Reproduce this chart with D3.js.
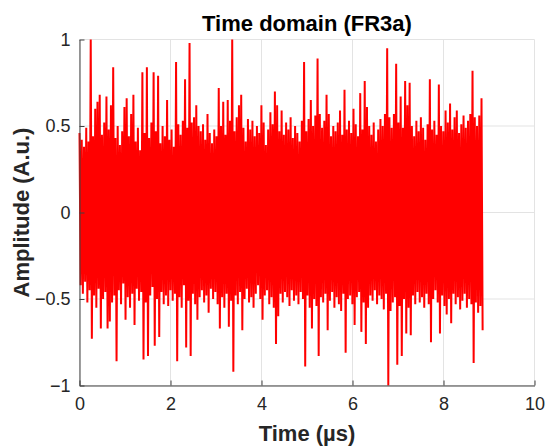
<!DOCTYPE html>
<html>
<head>
<meta charset="utf-8">
<script src="https://cdn.jsdelivr.net/npm/d3@7"></script>
<style>
	body { margin: 0; background: #fff; }
	svg text { font-family: "Liberation Sans", Arial, Helvetica, sans-serif; fill: #262626; }
</style>
</head>
<body>
<svg id="plot" width="549" height="448"></svg>
<script>
// positive peaks of the signal, one per sample period
const upper = [
	0.46, 0.42, 0.38, 0.49, 0.41, 1.00, 0.44, 0.60, 0.64, 0.68,
	0.45, 0.52, 0.67, 0.48, 0.62, 0.84, 0.43, 0.50, 0.39, 0.47,
	0.61, 0.66, 0.44, 0.57, 0.68, 0.41, 0.49, 0.36, 0.81, 0.46,
	0.84, 0.43, 0.52, 0.81, 0.47, 0.79, 0.40, 0.50, 0.44, 0.65,
	0.42, 0.48, 0.38, 0.87, 0.51, 0.45, 0.53, 0.77, 0.49, 0.98,
	0.52, 0.55, 0.62, 0.50, 0.47, 0.51, 0.42, 0.57, 0.46, 0.40,
	0.48, 0.44, 0.72, 0.50, 0.64, 0.45, 0.65, 0.53, 1.00, 0.47,
	0.55, 0.62, 0.68, 0.49, 0.41, 0.54, 0.48, 0.53, 0.44, 0.50,
	0.46, 0.62, 0.52, 0.39, 0.48, 0.58, 0.51, 0.70, 0.62, 0.47,
	0.59, 0.45, 0.52, 0.48, 0.55, 0.43, 0.50, 0.46, 0.41, 0.53,
	0.87, 0.47, 0.54, 0.65, 0.50, 0.56, 0.89, 0.57, 0.49, 0.53,
	0.68, 0.57, 0.44, 0.50, 0.47, 0.52, 0.59, 0.45, 0.71, 0.48,
	0.53, 0.46, 0.60, 0.51, 0.44, 0.69, 0.48, 0.76, 0.61, 0.50,
	0.45, 0.52, 0.41, 0.48, 0.54, 0.50, 0.57, 0.95, 0.55, 0.49,
	0.57, 0.86, 0.52, 0.67, 0.49, 0.76, 0.62, 0.75, 0.50, 0.44,
	0.53, 0.47, 0.55, 0.49, 0.42, 0.51, 0.77, 0.48, 0.53, 0.45,
	0.74, 0.50, 0.47, 0.59, 0.52, 0.63, 0.48, 0.55, 0.59, 0.46,
	0.51, 0.56, 0.49, 0.53, 0.57, 0.82, 0.55, 0.50, 0.56, 0.66
];

// negative peaks, half a sample period later
const lower = [
	-0.42, -0.47, -0.40, -0.52, -0.45, -0.73, -0.48, -0.55, -0.44, -0.67,
	-0.50, -0.46, -0.67, -0.63, -0.52, -0.48, -0.86, -0.45, -0.53, -0.41,
	-0.62, -0.49, -0.55, -0.47, -0.65, -0.44, -0.51, -0.46, -0.85, -0.52,
	-0.83, -0.48, -0.43, -0.77, -0.50, -0.72, -0.46, -0.53, -0.48, -0.54,
	-0.45, -0.51, -0.47, -0.86, -0.49, -0.55, -0.42, -0.78, -0.51, -0.83,
	-0.47, -0.53, -0.62, -0.49, -0.45, -0.52, -0.48, -0.58, -0.44, -0.50,
	-0.46, -0.53, -0.67, -0.49, -0.55, -0.47, -0.66, -0.51, -0.92, -0.48,
	-0.53, -0.46, -0.68, -0.50, -0.44, -0.52, -0.49, -0.55, -0.47, -0.42,
	-0.50, -0.62, -0.48, -0.45, -0.53, -0.49, -0.55, -0.76, -0.60, -0.47,
	-0.52, -0.46, -0.49, -0.54, -0.45, -0.51, -0.48, -0.53, -0.46, -0.50,
	-0.89, -0.48, -0.55, -0.67, -0.50, -0.54, -0.83, -0.49, -0.52, -0.47,
	-0.68, -0.51, -0.46, -0.55, -0.49, -0.53, -0.57, -0.47, -0.81, -0.50,
	-0.48, -0.53, -0.65, -0.49, -0.46, -0.69, -0.52, -0.76, -0.55, -0.48,
	-0.51, -0.45, -0.53, -0.48, -0.50, -0.56, -0.47, -1.00, -0.57, -0.52,
	-0.49, -0.88, -0.54, -0.83, -0.50, -0.70, -0.55, -0.71, -0.48, -0.53,
	-0.46, -0.52, -0.49, -0.55, -0.47, -0.53, -0.75, -0.50, -0.45, -0.52,
	-0.70, -0.48, -0.54, -0.59, -0.50, -0.64, -0.47, -0.53, -0.49, -0.56,
	-0.51, -0.47, -0.55, -0.50, -0.53, -0.87, -0.52, -0.58, -0.54, -0.68
];

const signal_end = 8.86; // µs
const x_ticks = [0, 2, 4, 6, 8, 10];
const y_ticks = [-1, -0.5, 0, 0.5, 1];

const svg = d3.select("#plot");
const m_left = 79.5, m_right = 534.5, m_top = 39.5, m_bottom = 385.5;

const x = d3.scaleLinear().domain([0, 10]).range([m_left, m_right]);
const y = d3.scaleLinear().domain([-1, 1]).range([m_bottom, m_top]);

// grid
const grid = svg.append("g");
grid.selectAll(".gx").data(x_ticks).enter().append("line")
	.attr("x1", d => x(d)).attr("x2", d => x(d))
	.attr("y1", m_top).attr("y2", m_bottom)
	.attr("stroke", "#e3e3e3").attr("stroke-width", 1);
grid.selectAll(".gy").data(y_ticks).enter().append("line")
	.attr("x1", m_left).attr("x2", m_right)
	.attr("y1", d => y(d)).attr("y2", d => y(d))
	.attr("stroke", "#e3e3e3").attr("stroke-width", 1);

// interleave positive and negative peaks, last one lands on signal_end
const dt = signal_end / (upper.length - 0.5);
let samples = [];
for (let i = 0; i < upper.length; i++) {
	samples.push([i * dt, upper[i]]);
	samples.push([(i + 0.5) * dt, lower[i]]);
}

const line = d3.line().x(d => x(d[0])).y(d => y(d[1]));
svg.append("path")
	.datum(samples)
	.attr("d", line)
	.attr("fill", "none")
	.attr("stroke", "#ff0000")
	.attr("stroke-width", 2)
	.attr("stroke-linejoin", "bevel");

// axes
const xAxis = d3.axisBottom(x).tickValues(x_ticks).tickSizeInner(-5).tickSizeOuter(0).tickPadding(12);
const yAxis = d3.axisLeft(y).tickValues(y_ticks).tickSizeInner(-5).tickSizeOuter(0).tickPadding(9)
	.tickFormat(d => d3.format("")(d));

const gx = svg.append("g").attr("transform", "translate(0," + m_bottom + ")").call(xAxis);
const gy = svg.append("g").attr("transform", "translate(" + m_left + ",0)").call(yAxis);

[gx, gy].forEach(g => {
	g.select(".domain").attr("stroke", "#404040").attr("stroke-width", 1);
	g.selectAll(".tick line").attr("stroke", "#404040");
	g.selectAll(".tick text").style("font-size", "18px").attr("fill", "#262626");
});
gx.selectAll(".tick text").attr("dy", "0.71em");

// labels
svg.append("text")
	.attr("x", (m_left + m_right) / 2).attr("y", 31)
	.attr("text-anchor", "middle")
	.style("font-size", "22px").style("font-weight", "bold")
	.style("fill", "#000")
	.text("Time domain (FR3a)");

svg.append("text")
	.attr("x", (m_left + m_right) / 2).attr("y", 441)
	.attr("text-anchor", "middle")
	.style("font-size", "22px").style("font-weight", "bold")
	.text("Time (µs)");

svg.append("text")
	.attr("transform", "translate(29," + y(0) + ") rotate(-90)")
	.attr("text-anchor", "middle")
	.style("font-size", "22px").style("font-weight", "bold")
	.text("Amplitude (A.u.)");
</script>
</body>
</html>
